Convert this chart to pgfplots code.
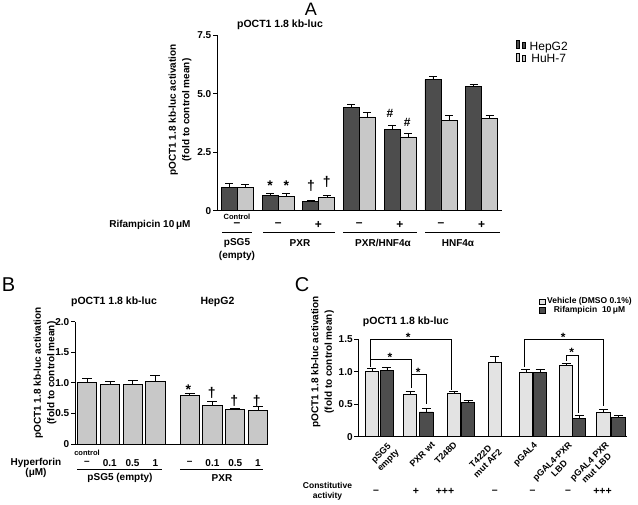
\documentclass[border=0pt]{standalone}
\usepackage{fontspec}
\setmainfont{Liberation Sans}
\usepackage{pgfplots}
\pgfplotsset{compat=1.18}
\definecolor{darkbar}{HTML}{4D4D4D}
\definecolor{lightbar}{HTML}{C8C8C8}
\definecolor{palebar}{HTML}{E3E3E3}
\newcommand{\fs}[2]{\fontsize{#1}{#2}\selectfont}
\pgfplotsset{
  panel/.style={
    scale only axis, anchor=south west, clip=false,
    axis x line*=bottom, axis y line*=left,
    xtick=\empty, ytick pos=left,
    tick align=outside, major tick length=4pt,
    axis line style={line width=0.9pt},
    every tick/.style={black, line width=0.9pt},
    yticklabel style={font=\bfseries\fs{10}{12}, inner sep=1.5pt},
    ymin=0, enlargelimits=false,
    every axis plot/.append style={draw=black, line width=0.8pt},
  },
  legend image code/.code={\draw[#1, line width=0.7pt] (0pt,-5pt) rectangle (12pt,5pt);},
}
\begin{document}
\begin{tikzpicture}[x=1pt,y=1pt]
\path[use as bounding box] (0,0) rectangle (638,504);

% ---------------- panel A
\begin{axis}[panel, at={(217pt,293.3pt)}, width=285pt, height=175.7pt,
  xmin=-0.5, xmax=6.5, ymax=7.5, ybar=0pt, bar width=16pt,
  ytick={0,2.5,5,7.5}, yticklabels={0,2.5,5.0,7.5},
  error bars/error mark options={rotate=90, mark size=4pt, line width=0.8pt},
  legend style={at={(1.048,0.97)}, anchor=north west, draw=none, fill=none,
    font=\fs{12}{14}, row sep=0pt, inner sep=0pt,
    nodes={inner ysep=1pt, inner xsep=4pt}},
]
\addplot[fill=darkbar, error bars/.cd, y dir=plus, y explicit] coordinates {
  (0,1.00) +- (0,0.15) (1,0.65) +- (0,0.08) (2,0.38) +- (0,0.08)
  (3,4.40) +- (0,0.15) (4,3.48) +- (0,0.18) (5,5.60) +- (0,0.15)
  (6,5.30) +- (0,0.08)};
\addplot[fill=lightbar, error bars/.cd, y dir=plus, y explicit] coordinates {
  (0,1.00) +- (0,0.12) (1,0.62) +- (0,0.12) (2,0.55) +- (0,0.10)
  (3,4.00) +- (0,0.18) (4,3.15) +- (0,0.15) (5,3.87) +- (0,0.18)
  (6,3.95) +- (0,0.10)};
\legend{HepG2, HuH-7}
\end{axis}

\node[font=\fs{18}{18}] at (311,495) {A};
\node[font=\bfseries\fs{10.5}{12}] at (280,479) {pOCT1 1.8 kb-luc};
\node[font=\bfseries\fs{10}{13.5}, rotate=90, align=center] at (180,394)
  {pOCT1 1.8 kb-luc activation\\(fold to control mean)};
\begin{scope}[font=\bfseries\fs{14}{14}]
  \node[anchor=base] at (270,313.6) {*};
  \node[anchor=base] at (286.3,313.6) {*};
  \node[anchor=base] at (311,313) {†};
  \node[anchor=base] at (326.7,317) {†};
\end{scope}
\begin{scope}[font=\bfseries\fs{12}{12}]
  \node[anchor=base] at (390,386.5) {\#};
  \node[anchor=base] at (407.3,377.1) {\#};
\end{scope}
\node[font=\bfseries\fs{7.5}{8}] at (237,287) {Control};
\node[font=\bfseries\fs{10}{12}, anchor=east] at (194,279) {Rifampicin 10\,μM};
\begin{scope}[font=\bfseries\fs{12}{12}]
  \node at (237,279) {–};   \node at (278.3,279) {–};
  \node at (318.3,279) {+}; \node at (359.3,279) {–};
  \node at (400,279) {+};   \node at (441,279) {–};
  \node at (481.7,279) {+};
\end{scope}
\begin{scope}[line width=0.8pt]
  \draw (222,272) -- (252,272);
  \draw (263,272) -- (335,272);
  \draw (343,272) -- (417,272);
  \draw (425,272) -- (500,272);
\end{scope}
\begin{scope}[font=\bfseries\fs{10}{12}]
  \node at (237,261) {pSG5};
  \node at (237,248) {(empty)};
  \node at (300,261) {PXR};
  \node at (383,261) {PXR/HNF4α};
  \node at (458,261) {HNF4α};
\end{scope}

% ---------------- panel B
\begin{axis}[panel, at={(75pt,60pt)}, width=191.7pt, height=122.3pt,
  xmin=-0.53, xmax=7.88, ymax=2.0, ybar, bar width=19.3pt,
  ytick={0,0.5,1,1.5,2}, yticklabels={0,0.5,1.0,1.5,2.0},
  error bars/error mark options={rotate=90, mark size=5pt, line width=0.8pt},
]
\addplot[fill=lightbar, error bars/.cd, y dir=plus, y explicit] coordinates {
  (0,1.00) +- (0,0.07) (1,0.97) +- (0,0.06) (2,0.98) +- (0,0.06)
  (3,1.02) +- (0,0.10) (4.5,0.79) +- (0,0.03) (5.5,0.63) +- (0,0.07)
  (6.5,0.56) +- (0,0.03) (7.5,0.55) +- (0,0.07)};
\end{axis}

\node[font=\fs{20}{20}] at (8.5,219) {B};
\node[font=\bfseries\fs{10.5}{12}] at (114,202.3) {pOCT1 1.8 kb-luc};
\node[font=\bfseries\fs{10.5}{12}] at (217.5,202.3) {HepG2};
\node[font=\bfseries\fs{10}{13.5}, rotate=90, align=center] at (45,131)
  {pOCT1 1.8 kb-luc activation\\(fold to control mean)};
\node[font=\bfseries\fs{14}{14}, anchor=base] at (188.3,109.6) {*};
\begin{scope}[font=\bfseries\fs{14}{14}]
  \node[anchor=base] at (211.7,106.5) {†};
  \node[anchor=base] at (234.3,98) {†};
  \node[anchor=base] at (256.7,98) {†};
\end{scope}
\node[font=\bfseries\fs{7.5}{8}] at (87,51.3) {control};
\node[font=\bfseries\fs{10}{12}] at (36,41) {Hyperforin};
\node[font=\bfseries\fs{10}{12}] at (36,31) {(μM)};
\begin{scope}[font=\bfseries\fs{10}{12}]
  \node at (87,41) {–};     \node at (109.8,41) {0.1};
  \node at (132.6,41) {0.5}; \node at (155.4,41) {1};
  \node at (189.6,41) {–};  \node at (212.4,41) {0.1};
  \node at (235.2,41) {0.5}; \node at (258,41) {1};
  \node at (120,26) {pSG5 (empty)};
  \node at (222,26) {PXR};
\end{scope}
\draw[line width=0.8pt] (77,34.7) -- (162,34.7);
\draw[line width=0.8pt] (180,34.7) -- (263,34.7);

% ---------------- panel C
\begin{axis}[panel, at={(358.3pt,67.3pt)}, width=268.4pt, height=97.7pt,
  xmin=0, xmax=268.4, ymax=1.5, ybar, bar width=13.3pt,
  ytick={0,0.5,1,1.5}, yticklabels={0,0.5,1.0,1.5},
  error bars/error mark options={rotate=90, mark size=4.5pt, line width=0.8pt},
  legend style={at={(0.673,1.43)}, anchor=north west, draw=none, fill=none,
    font=\bfseries\fs{8.5}{9.5}, row sep=0pt, inner sep=0pt,
    nodes={inner ysep=0.6pt, inner xsep=2pt}},
  legend image code/.code={\draw[#1, line width=0.5pt] (0pt,-2.8pt) rectangle (5.6pt,2.8pt);},
]
\addplot[fill=palebar, bar shift=0pt, error bars/.cd, y dir=plus, y explicit] coordinates {
  (13.4,1.00) +- (0,0.05) (51.7,0.65) +- (0,0.04) (95.4,0.66) +- (0,0.03)
  (136.4,1.14) +- (0,0.09) (167.4,0.98) +- (0,0.05) (207.7,1.10) +- (0,0.03)
  (245,0.37) +- (0,0.05)};
\addplot[fill=darkbar, bar shift=0pt, error bars/.cd, y dir=plus, y explicit] coordinates {
  (28.4,1.02) +- (0,0.05) (68,0.38) +- (0,0.05) (109.7,0.53) +- (0,0.03)
  (181.7,0.99) +- (0,0.05) (220.7,0.28) +- (0,0.04) (260,0.30) +- (0,0.03)};
\legend{Vehicle (DMSO 0.1\%), Rifampicin\ \ 10\,μM}
\end{axis}

\node[font=\fs{20}{20}] at (302,219) {C};
\node[font=\bfseries\fs{10.5}{12}] at (405.8,182.3) {pOCT1 1.8 kb-luc};
\node[font=\bfseries\fs{10}{13.5}, rotate=90, align=center] at (322.5,142)
  {pOCT1 1.8 kb-luc activation\\(fold to control mean)};
\begin{scope}[line width=0.8pt]
  \draw (370,137) -- (370,165) -- (451.7,165) -- (451.7,114);
  \draw (370,137) -- (370,144.8) -- (411.7,144.8) -- (411.7,116);
  \draw (411.7,116) -- (411.7,129.2) -- (426,129.2) -- (426,100);
  \draw (524,137) -- (524,165) -- (603.3,165) -- (603.3,98);
  \draw (566.7,142.9) -- (566.7,148.7) -- (578.3,148.7) -- (578.3,90.7);
\end{scope}
\begin{scope}[font=\bfseries\fs{12}{12}]
  \node[anchor=base] at (408.3,162) {*};
  \node[anchor=base] at (390,142) {*};
  \node[anchor=base] at (418.3,127) {*};
  \node[anchor=base] at (563.3,162) {*};
  \node[anchor=base] at (571.7,147) {*};
\end{scope}
\begin{scope}[font=\bfseries\fs{9}{10}, inner sep=0pt]
  \node[rotate=45, anchor=north east, align=center] at (388,63) {pSG5\\empty};
  \node[rotate=45, anchor=north east] at (431,63) {PXR wt};
  \node[rotate=45, anchor=north east] at (453,63) {T248D};
  \node[rotate=45, anchor=north east, align=center] at (491,63) {T422D\\mut AF2};
  \node[rotate=45, anchor=north east] at (533.3,63) {pGAL4};
  \node[rotate=45, anchor=north east, align=center] at (568,63) {pGAL4-PXR\\LBD};
  \node[rotate=45, anchor=north east, align=center] at (605,63) {pGAL4 PXR\\mut LBD};
\end{scope}
\node[font=\bfseries\fs{8.5}{10}, align=center] at (327.5,12.3) {Constitutive\\activity};
\begin{scope}[font=\bfseries\fs{10.5}{11}]
  \node at (376,12.3) {–};   \node at (416,12.3) {+};
  \node at (445,12.3) {+++}; \node at (494.7,12.3) {–};
  \node at (532.5,12.3) {–}; \node at (568,12.3) {–};
  \node at (602.5,12.3) {+++};
\end{scope}
\end{tikzpicture}
\end{document}
